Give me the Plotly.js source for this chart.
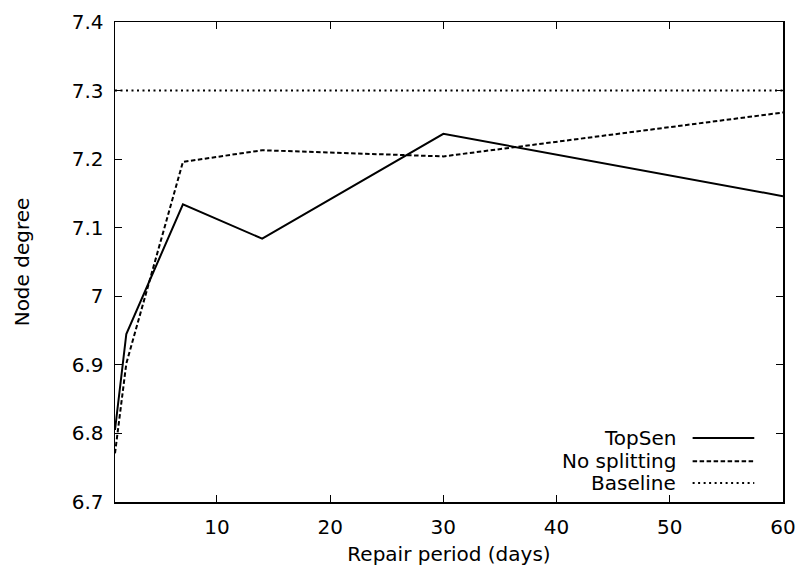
<!DOCTYPE html>
<html>
<head>
<meta charset="utf-8">
<script src="https://cdn.plot.ly/plotly-3.0.1.min.js"></script>
<style>html,body{margin:0;padding:0;background:#fff}#chart{width:800px;height:571px}</style>
</head>
<body>
<div id="chart"></div>
<script>
var repairDays = [1, 2, 7, 14, 30, 60];
var topSen = [6.805, 6.945, 7.134, 7.084, 7.237, 7.146];
var noSplitting = [6.771, 6.902, 7.196, 7.213, 7.204, 7.268];
var baselineX = [1, 60];
var baselineY = [7.3, 7.3];
var seriesNames = ["TopSen", "No splitting", "Baseline"];
var xTicks = [10, 20, 30, 40, 50, 60];
var yTicks = [6.7, 6.8, 6.9, 7.0, 7.1, 7.2, 7.3, 7.4];

var font = "DejaVu Sans, Liberation Sans, Arial, sans-serif";
var fsize = 20;
var dashes = ["solid", "4.5px,2.5px", "2px,3.5px"];

var traces = [
  {x: repairDays, y: topSen, name: seriesNames[0], mode: "lines", line: {color: "#000", width: 2, dash: dashes[0]}},
  {x: repairDays, y: noSplitting, name: seriesNames[1], mode: "lines", line: {color: "#000", width: 2, dash: dashes[1]}},
  {x: baselineX, y: baselineY, name: seriesNames[2], mode: "lines", line: {color: "#000", width: 2, dash: dashes[2]}}
];

var legY = [0.1334, 0.0848, 0.0396];
var annotations = [], shapes = [];
for (var i = 0; i < seriesNames.length; i++) {
  annotations.push({xref: "paper", yref: "paper", x: 0.8423, y: legY[i], text: seriesNames[i], showarrow: false,
    xanchor: "right", yanchor: "middle", font: {family: font, size: fsize, color: "#000"}});
  shapes.push({type: "line", xref: "paper", yref: "paper", x0: 0.8647, x1: 0.957, y0: legY[i], y1: legY[i],
    line: {color: "#000", width: 2, dash: dashes[i]}});
}

var axisCommon = {
  showgrid: false, zeroline: false, showline: true, mirror: "ticks", linecolor: "#000", linewidth: 1.5,
  ticks: "inside", ticklen: 7, tickwidth: 1, tickcolor: "#000",
  tickfont: {family: font, size: fsize, color: "#000"}
};

var layout = {
  width: 800, height: 571,
  margin: {l: 114.5, r: 17.3, t: 22, b: 69.3},
  paper_bgcolor: "#fff", plot_bgcolor: "#fff",
  showlegend: false,
  xaxis: Object.assign({}, axisCommon, {range: [1, 60], tickmode: "array", tickvals: xTicks, ticktext: xTicks.map(String),
    ticklabelstandoff: 6,
    title: {text: "Repair period (days)", font: {family: font, size: fsize, color: "#000"}, standoff: 9}}),
  yaxis: Object.assign({}, axisCommon, {range: [6.7, 7.4], tickmode: "array", tickvals: yTicks,
    ticktext: yTicks.map(function(v){return String(Math.round(v*10)/10);}),
    ticklabelstandoff: 6,
    title: {text: "Node degree", font: {family: font, size: fsize, color: "#000"}, standoff: 36}}),
  annotations: annotations,
  shapes: shapes
};

Plotly.newPlot("chart", traces, layout, {displayModeBar: false, staticPlot: true});
</script>
</body>
</html>
